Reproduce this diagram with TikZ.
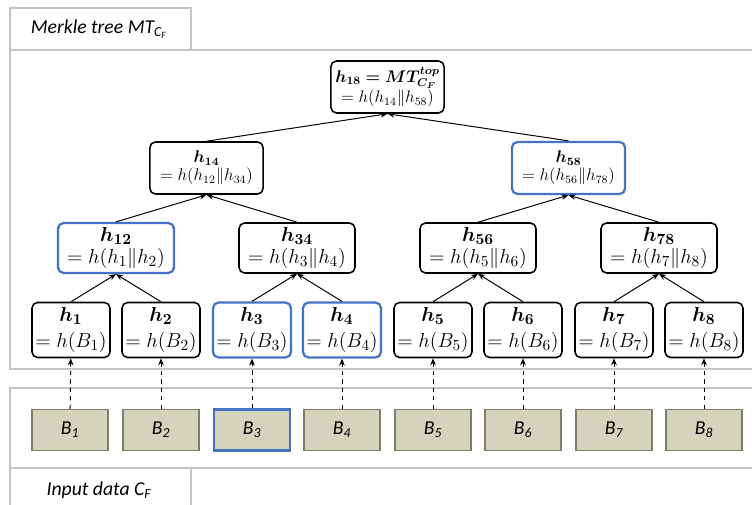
\documentclass[tikz,border=0pt]{standalone}
\usepackage{fontspec}
\usepackage{amsmath,bm}
\newfontfamily\tabfont{Carlito}
\usetikzlibrary{arrows.meta}

\definecolor{hashblue}{RGB}{68,114,196}
\definecolor{blockfill}{RGB}{214,211,188}
\definecolor{blockline}{RGB}{125,125,105}
\definecolor{panelgray}{RGB}{196,196,196}

\begin{document}
\begin{tikzpicture}[x = 0.025cm, y = -0.025cm,
						hashbox/.style={draw, rounded corners = 4pt, line width = 1.1pt, align = center, inner sep = 1pt},
						leafhash/.style={hashbox, minimum width = 1.95cm, minimum height = 1.375cm, font = \fontsize{15}{18}\selectfont},
						midhash/.style={hashbox, minimum width = 2.9cm, minimum height = 1.25cm, font = \fontsize{15}{16}\selectfont},
						tophash/.style={hashbox, minimum width = 2.83cm, minimum height = 1.3cm, font = \fontsize{12}{13}\selectfont},
						proof/.style={draw = hashblue, line width = 1.6pt},
						block/.style={draw = blockline, fill = blockfill, line width = 0.8pt, minimum width = 1.9cm, minimum height = 1.03cm, font = \tabfont\itshape\fontsize{14}{16}\selectfont},
						tab/.style={font = \tabfont\itshape\fontsize{14}{16}\selectfont},
						panel/.style={draw = panelgray, line width = 1.1pt},
						edge/.style={-{Stealth[length = 5pt, width = 4pt]}, line width = 0.7pt},
						feed/.style={edge, dashed},
						]
	
		\useasboundingbox (0, 0) rectangle (752, 505);
		
		% Panels and tabs
		\draw[panel] (10, 50) -- (10, 8) -- (191, 8) -- (191, 50);
		\draw[panel] (752, 50) -- (10, 50) -- (10, 369) -- (752, 369);
		\draw[panel] (752, 388) -- (10, 388) -- (10, 468) -- (752, 468);
		\draw[panel] (10, 505) -- (10, 468);
		\draw[panel] (191, 505) -- (191, 468);
		\node[tab] (treetab) at (99, 29) {Merkle tree MT\textsubscript{C\textsubscript{F}}};
		\node[tab] (datatab) at (99, 490) {Input data C\textsubscript{F}};
		
		% Root
		\node[tophash] (h18) at (387.5, 87) {$\bm{h_{18} = MT^{top}_{C_F}}$\\$= h(h_{14} \| h_{58})$};
		
		% First level
		\node[tophash] (h14) at (206.5, 168) {$\bm{h_{14}}$\\$= h(h_{12} \| h_{34})$};
		\node[tophash, proof] (h58) at (568.5, 168) {$\bm{h_{58}}$\\$= h(h_{56} \| h_{78})$};
		
		% Second level
		\node[midhash, proof] (h12) at (116, 248) {$\bm{h_{12}}$\\$= h(h_1 \| h_2)$};
		\node[midhash] (h34) at (297, 248) {$\bm{h_{34}}$\\$= h(h_3 \| h_4)$};
		\node[midhash] (h56) at (478, 248) {$\bm{h_{56}}$\\$= h(h_5 \| h_6)$};
		\node[midhash] (h78) at (659, 248) {$\bm{h_{78}}$\\$= h(h_7 \| h_8)$};
		
		% Leaves
		\node[leafhash] (h1) at (71, 330) {$\bm{h_1}$\\$= h(B_1)$};
		\node[leafhash] (h2) at (161, 330) {$\bm{h_2}$\\$= h(B_2)$};
		\node[leafhash, proof] (h3) at (252, 330) {$\bm{h_3}$\\$= h(B_3)$};
		\node[leafhash, proof] (h4) at (342, 330) {$\bm{h_4}$\\$= h(B_4)$};
		\node[leafhash] (h5) at (433, 330) {$\bm{h_5}$\\$= h(B_5)$};
		\node[leafhash] (h6) at (523, 330) {$\bm{h_6}$\\$= h(B_6)$};
		\node[leafhash] (h7) at (614, 330) {$\bm{h_7}$\\$= h(B_7)$};
		\node[leafhash] (h8) at (704, 330) {$\bm{h_8}$\\$= h(B_8)$};
		
		% Data blocks
		\node[block] (B1) at (70, 430) {B\textsubscript{1}};
		\node[block] (B2) at (161, 430) {B\textsubscript{2}};
		\node[block, proof] (B3) at (252, 430) {B\textsubscript{3}};
		\node[block] (B4) at (342, 430) {B\textsubscript{4}};
		\node[block] (B5) at (433, 430) {B\textsubscript{5}};
		\node[block] (B6) at (523, 430) {B\textsubscript{6}};
		\node[block] (B7) at (614, 430) {B\textsubscript{7}};
		\node[block] (B8) at (704, 430) {B\textsubscript{8}};
		
		% Hashing of the blocks
		\draw[feed] (B1) -- (h1);
		\draw[feed] (B2) -- (h2);
		\draw[feed] (B3) -- (h3);
		\draw[feed] (B4) -- (h4);
		\draw[feed] (B5) -- (h5);
		\draw[feed] (B6) -- (h6);
		\draw[feed] (B7) -- (h7);
		\draw[feed] (B8) -- (h8);
		
		% Tree edges
		\draw[edge] (h1.north) -- (h12.south);
		\draw[edge] (h2.north) -- (h12.south);
		\draw[edge] (h3.north) -- (h34.south);
		\draw[edge] (h4.north) -- (h34.south);
		\draw[edge] (h5.north) -- (h56.south);
		\draw[edge] (h6.north) -- (h56.south);
		\draw[edge] (h7.north) -- (h78.south);
		\draw[edge] (h8.north) -- (h78.south);
		\draw[edge] (h12.north) -- (h14.south);
		\draw[edge] (h34.north) -- (h14.south);
		\draw[edge] (h56.north) -- (h58.south);
		\draw[edge] (h78.north) -- (h58.south);
		\draw[edge] (h14.north) -- (h18.south);
		\draw[edge] (h58.north) -- (h18.south);
		
	\end{tikzpicture}
\end{document}
